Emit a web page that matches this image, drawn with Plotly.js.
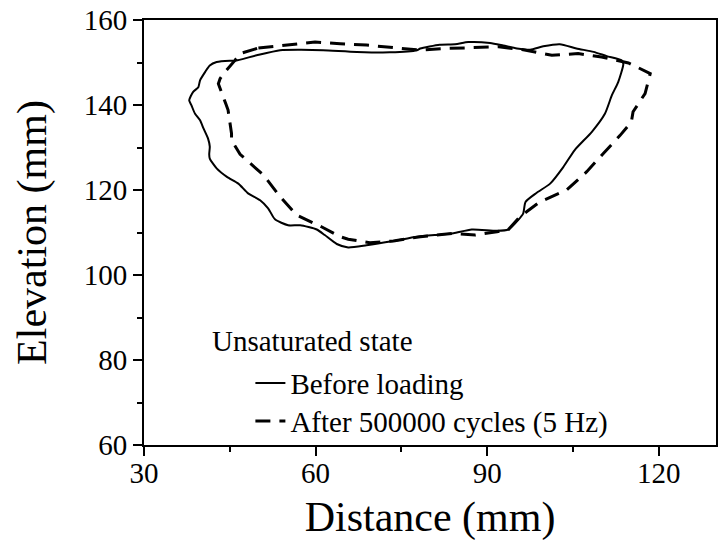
<!DOCTYPE html>
<html>
<head>
<meta charset="utf-8">
<script src="https://cdn.plot.ly/plotly-3.0.1.min.js"></script>
<style>html,body{margin:0;padding:0;background:#fff;}#chart{width:721px;height:556px;}</style>
</head>
<body>
<div id="chart"></div>
<script>
// Before loading (solid), closed contour
const beforeX = [45.9,45.0,42.7,41.5,40.7,39.8,39.5,38.6,37.9,38.3,38.9,39.8,40.4,41.2,41.5,41.4,41.5,42.7,44.5,46.5,48.2,50.3,51.7,52.9,55.2,57.3,60.2,61.6,63.7,65.7,68.9,73.6,77.7,81.7,84.1,87.3,91.7,93.7,95.4,96.3,96.7,98.6,101.0,103.3,105.3,108.3,110.6,111.8,112.9,113.8,113.5,110.9,108.6,105.6,102.7,99.8,97.5,95.2,92.8,90.5,86.7,84.4,81.7,78.3,77.7,73.0,67.2,61.3,57.3,53.8,49.7,45.9];
const beforeY = [150.4,150.4,150.1,149.3,147.8,145.8,144.2,143.1,141.1,139.9,138.0,136.4,134.5,132.1,130.2,128.4,127.4,125.1,123.1,121.5,119.2,117.6,115.7,113.1,111.7,111.7,110.7,109.4,107.3,106.5,107.0,108.0,109.0,109.5,109.8,110.7,110.4,110.7,112.9,114.5,117.2,119.3,121.5,125.4,129.4,133.7,138.0,142.3,145.4,149.7,150.5,151.5,152.5,153.3,154.3,153.8,153.0,153.3,154.0,154.6,154.8,154.3,154.2,153.3,152.9,152.4,152.5,152.9,153.0,152.9,151.7,150.4];

// After 500000 cycles (dashed), closed contour
const afterX = [50.0,55.2,59.9,64.3,68.9,73.6,78.3,82.9,87.3,92.0,96.3,101.3,105.9,110.0,114.7,118.5,117.6,115.5,115.2,113.2,110.3,107.4,103.9,99.2,95.7,93.7,91.7,87.9,84.1,78.3,73.6,69.5,65.7,64.3,61.1,56.7,53.8,50.9,46.8,45.3,45.3,44.7,44.3,43.0,43.3,43.9,45.9,46.8,50.0];
const afterY = [153.4,154.1,154.8,154.4,154.1,153.5,152.9,153.3,153.5,153.7,153.0,151.7,152.1,151.3,149.9,147.4,142.7,138.4,136.0,132.8,128.6,124.3,120.0,117.2,113.7,110.7,110.2,109.4,109.8,109.0,108.0,107.6,108.4,109.0,111.3,114.1,118.4,123.5,128.4,131.7,133.3,138.8,140.3,145.0,146.2,147.4,150.5,152.1,153.4];

const seriesNames = ["Before loading", "After 500000 cycles (5 Hz)"];
const legendTitle = "Unsaturated state";
const xTitle = "Distance (mm)";
const yTitle = "Elevation (mm)";
const xTicks = [30, 60, 90, 120];
const yTicks = [60, 80, 100, 120, 140, 160];

const FONT = "'Liberation Serif', 'Times New Roman', Times, serif";

const traces = [
  {x: beforeX, y: beforeY, mode: "lines", name: seriesNames[0], legend: "legend",
   line: {color: "#000", width: 2, shape: "spline", smoothing: 0.6}},
  {x: afterX, y: afterY, mode: "lines", name: seriesNames[1], legend: "legend2",
   line: {color: "#000", width: 3, dash: "15px,9px"}}
];

const baseAxis = {showgrid: false, zeroline: false, showline: true, linecolor: "#000", linewidth: 2,
  ticks: "outside", ticklen: 9, tickwidth: 2, tickcolor: "#000",
  tickfont: {family: FONT, size: 29, color: "#000"}};

const legendBase = {xanchor: "left", yanchor: "middle", bgcolor: "rgba(0,0,0,0)",
  font: {family: FONT, size: 29, color: "#000"}};

const layout = {
  width: 721, height: 556,
  margin: {l: 144, r: 5, t: 20, b: 111},
  paper_bgcolor: "#fff", plot_bgcolor: "#fff",
  showlegend: true,
  xaxis: Object.assign({}, baseAxis, {range: [30, 130], tickvals: xTicks, ticktext: xTicks.map(String),
    minor: {tickvals: [45, 75, 105], ticks: "outside", ticklen: 5, tickwidth: 2, tickcolor: "#000"},
    mirror: true, ticklabelstandoff: -8,
    title: {text: xTitle, font: {family: FONT, size: 42, color: "#000"}, standoff: 14}}),
  yaxis: Object.assign({}, baseAxis, {range: [60, 160], tickvals: yTicks, ticktext: yTicks.map(String),
    minor: {tickvals: [70, 90, 110, 130, 150], ticks: "outside", ticklen: 5, tickwidth: 2, tickcolor: "#000"},
    mirror: true,
    title: {text: yTitle, font: {family: FONT, size: 42, color: "#000"}, standoff: 24}}),
  xaxis2: {overlaying: "x", anchor: "y", side: "top", range: [30, 130], showgrid: false, zeroline: false,
    showline: false, ticks: "inside", ticklen: 5, tickwidth: 2, tickcolor: "#000", showticklabels: false,
    tickvals: xTicks, minor: {tickvals: [45, 75, 105], ticks: "inside", ticklen: 3, tickwidth: 2, tickcolor: "#000"}},
  yaxis2: {overlaying: "y", anchor: "x", side: "right", range: [60, 160], showgrid: false, zeroline: false,
    showline: false, ticks: "inside", ticklen: 5, tickwidth: 2, tickcolor: "#000", showticklabels: false,
    tickvals: yTicks, minor: {tickvals: [70, 90, 110, 130, 150], ticks: "inside", ticklen: 3, tickwidth: 2, tickcolor: "#000"}},
  legend: Object.assign({}, legendBase, {x: 0.186, y: 0.1458}),
  legend2: Object.assign({}, legendBase, {x: 0.186, y: 0.0564}),
  annotations: [{text: legendTitle, xref: "paper", yref: "paper", x: 0.1154, y: 0.2445,
    xanchor: "left", yanchor: "middle", showarrow: false, font: {family: FONT, size: 29, color: "#000"}}]
};

Plotly.newPlot("chart", traces, layout, {displayModeBar: false, staticPlot: true});
</script>
</body>
</html>
